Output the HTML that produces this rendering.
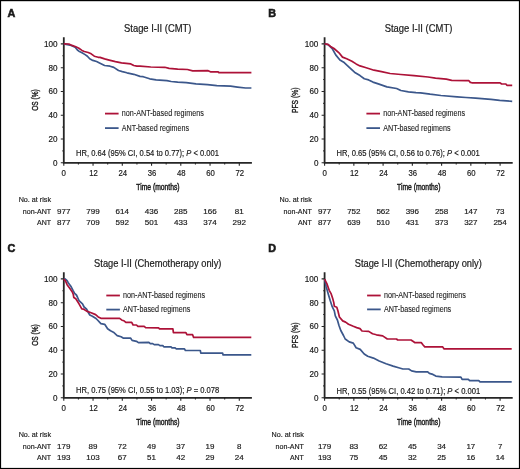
<!DOCTYPE html>
<html><head><meta charset="utf-8"><style>
html,body{margin:0;padding:0;background:#fff;}
body{width:520px;height:469px;overflow:hidden;position:relative;}
svg{position:absolute;left:0;top:0;display:block;will-change:transform;}
text{font-family:"Liberation Sans", sans-serif;fill:#1a1a1a;stroke:#1a1a1a;stroke-width:0.18px;}
</style></head><body>
<svg width="520" height="469" viewBox="0 0 520 469">
<rect x="0" y="0" width="520" height="1.2" fill="#000"/><rect x="0" y="0" width="1.1" height="469" fill="#000"/><rect x="518.9" y="0" width="1.1" height="469" fill="#000"/><rect x="0" y="467.9" width="520" height="1.1" fill="#000"/>
<g transform="translate(0,0)">
<text x="7.4" y="16.7" font-size="11.7" text-anchor="start" font-weight="bold" textLength="7.8" lengthAdjust="spacingAndGlyphs" style="stroke-width:0.6px">A</text>
<text x="124.0" y="32.1" font-size="10.1" text-anchor="start" font-weight="normal" textLength="67.5" lengthAdjust="spacingAndGlyphs" style="stroke-width:0.2px">Stage I-II (CMT)</text>
<path d="M63.8 37.2 V162.8 H251.9" fill="none" stroke="#262626" stroke-width="1.8"/>
<path d="M60.8 162.80 H63.8 M62.4 150.91 H63.8 M60.8 139.02 H63.8 M62.4 127.13 H63.8 M60.8 115.24 H63.8 M62.4 103.35 H63.8 M60.8 91.46 H63.8 M62.4 79.57 H63.8 M60.8 67.68 H63.8 M62.4 55.79 H63.8 M60.8 43.90 H63.8 M63.80 162.8 V165.8 M78.42 162.8 V164.4 M93.05 162.8 V165.8 M107.67 162.8 V164.4 M122.30 162.8 V165.8 M136.93 162.8 V164.4 M151.55 162.8 V165.8 M166.18 162.8 V164.4 M180.80 162.8 V165.8 M195.43 162.8 V164.4 M210.05 162.8 V165.8 M224.68 162.8 V164.4 M239.30 162.8 V165.8" stroke="#262626" stroke-width="1.1" fill="none"/>
<text x="57.6" y="165.7" font-size="8.2" text-anchor="end" font-weight="normal" textLength="4.5" lengthAdjust="spacingAndGlyphs">0</text>
<text x="57.6" y="141.92" font-size="8.2" text-anchor="end" font-weight="normal" textLength="9.0" lengthAdjust="spacingAndGlyphs">20</text>
<text x="57.6" y="118.14" font-size="8.2" text-anchor="end" font-weight="normal" textLength="9.0" lengthAdjust="spacingAndGlyphs">40</text>
<text x="57.6" y="94.36" font-size="8.2" text-anchor="end" font-weight="normal" textLength="9.0" lengthAdjust="spacingAndGlyphs">60</text>
<text x="57.6" y="70.58" font-size="8.2" text-anchor="end" font-weight="normal" textLength="9.0" lengthAdjust="spacingAndGlyphs">80</text>
<text x="57.6" y="46.8" font-size="8.2" text-anchor="end" font-weight="normal" textLength="13.6" lengthAdjust="spacingAndGlyphs">100</text>
<text x="63.8" y="176.3" font-size="8.2" text-anchor="middle" font-weight="normal" textLength="4.4" lengthAdjust="spacingAndGlyphs">0</text>
<text x="93.45" y="176.3" font-size="8.2" text-anchor="middle" font-weight="normal" textLength="8.6" lengthAdjust="spacingAndGlyphs">12</text>
<text x="122.7" y="176.3" font-size="8.2" text-anchor="middle" font-weight="normal" textLength="8.6" lengthAdjust="spacingAndGlyphs">24</text>
<text x="151.95" y="176.3" font-size="8.2" text-anchor="middle" font-weight="normal" textLength="8.6" lengthAdjust="spacingAndGlyphs">36</text>
<text x="181.2" y="176.3" font-size="8.2" text-anchor="middle" font-weight="normal" textLength="8.6" lengthAdjust="spacingAndGlyphs">48</text>
<text x="210.45" y="176.3" font-size="8.2" text-anchor="middle" font-weight="normal" textLength="8.6" lengthAdjust="spacingAndGlyphs">60</text>
<text x="239.7" y="176.3" font-size="8.2" text-anchor="middle" font-weight="normal" textLength="8.6" lengthAdjust="spacingAndGlyphs">72</text>
<text x="136.3" y="189.7" font-size="9.0" text-anchor="start" font-weight="normal" textLength="43.3" lengthAdjust="spacingAndGlyphs" style="stroke-width:0.45px">Time (months)</text>
<g transform="translate(37.7,100.0) rotate(-90)"><text x="0" y="0" font-size="9.7" text-anchor="middle" font-weight="normal" textLength="21.6" lengthAdjust="spacingAndGlyphs" style="stroke-width:0.4px">OS (%)</text></g>
<path d="M105.0 113.6 H118.6" stroke="#AD1238" stroke-width="1.8"/>
<path d="M105.0 128.1 H118.6" stroke="#3B578B" stroke-width="1.8"/>
<text x="121.8" y="115.69999999999999" font-size="8.2" text-anchor="start" font-weight="normal" textLength="82.0" lengthAdjust="spacingAndGlyphs" style="stroke-width:0.1px">non-ANT-based regimens</text>
<text x="121.8" y="130.7" font-size="8.2" text-anchor="start" font-weight="normal" textLength="67.3" lengthAdjust="spacingAndGlyphs" style="stroke-width:0.1px">ANT-based regimens</text>
<text x="76.1" y="156.2" font-size="8.4" text-anchor="start" font-weight="normal" textLength="142.8" lengthAdjust="spacingAndGlyphs">HR, 0.64 (95% CI, 0.54 to 0.77); <tspan font-style="italic">P</tspan> &lt; 0.001</text>
<text x="18.7" y="201.9" font-size="7.7" text-anchor="start" font-weight="normal" textLength="32.3" lengthAdjust="spacingAndGlyphs">No. at risk</text>
<text x="51.1" y="213.6" font-size="7.7" text-anchor="end" font-weight="normal" textLength="28.3" lengthAdjust="spacingAndGlyphs">non-ANT</text>
<text x="51.1" y="224.8" font-size="7.7" text-anchor="end" font-weight="normal" textLength="14.0" lengthAdjust="spacingAndGlyphs">ANT</text>
<text x="63.8" y="213.6" font-size="7.7" text-anchor="middle" font-weight="normal" textLength="13.4" lengthAdjust="spacingAndGlyphs">977</text>
<text x="93.05" y="213.6" font-size="7.7" text-anchor="middle" font-weight="normal" textLength="13.4" lengthAdjust="spacingAndGlyphs">799</text>
<text x="122.3" y="213.6" font-size="7.7" text-anchor="middle" font-weight="normal" textLength="13.4" lengthAdjust="spacingAndGlyphs">614</text>
<text x="151.55" y="213.6" font-size="7.7" text-anchor="middle" font-weight="normal" textLength="13.4" lengthAdjust="spacingAndGlyphs">436</text>
<text x="180.8" y="213.6" font-size="7.7" text-anchor="middle" font-weight="normal" textLength="13.4" lengthAdjust="spacingAndGlyphs">285</text>
<text x="210.05" y="213.6" font-size="7.7" text-anchor="middle" font-weight="normal" textLength="13.4" lengthAdjust="spacingAndGlyphs">166</text>
<text x="239.3" y="213.6" font-size="7.7" text-anchor="middle" font-weight="normal" textLength="8.9" lengthAdjust="spacingAndGlyphs">81</text>
<text x="63.8" y="224.8" font-size="7.7" text-anchor="middle" font-weight="normal" textLength="13.4" lengthAdjust="spacingAndGlyphs">877</text>
<text x="93.05" y="224.8" font-size="7.7" text-anchor="middle" font-weight="normal" textLength="13.4" lengthAdjust="spacingAndGlyphs">709</text>
<text x="122.3" y="224.8" font-size="7.7" text-anchor="middle" font-weight="normal" textLength="13.4" lengthAdjust="spacingAndGlyphs">592</text>
<text x="151.55" y="224.8" font-size="7.7" text-anchor="middle" font-weight="normal" textLength="13.4" lengthAdjust="spacingAndGlyphs">501</text>
<text x="180.8" y="224.8" font-size="7.7" text-anchor="middle" font-weight="normal" textLength="13.4" lengthAdjust="spacingAndGlyphs">433</text>
<text x="210.05" y="224.8" font-size="7.7" text-anchor="middle" font-weight="normal" textLength="13.4" lengthAdjust="spacingAndGlyphs">374</text>
<text x="239.3" y="224.8" font-size="7.7" text-anchor="middle" font-weight="normal" textLength="13.4" lengthAdjust="spacingAndGlyphs">292</text>
<path d="M63.80 43.90 L71.20 45.40 L75.10 47.30 L77.40 50.00 L78.90 51.20 L82.00 52.70 L85.10 54.60 L87.40 56.20 L89.70 58.80 L92.80 60.40 L96.60 61.50 L100.00 63.20 L104.60 65.50 L110.00 66.20 L113.80 67.40 L118.50 70.50 L122.30 71.60 L126.90 72.80 L133.80 74.30 L140.00 76.40 L143.20 76.70 L149.70 78.80 L156.10 79.90 L166.90 80.70 L171.20 81.50 L177.70 82.10 L186.30 82.60 L196.00 83.90 L207.50 84.70 L216.80 85.60 L230.60 86.20 L237.50 87.10 L245.60 88.00 L251.40 88.00" fill="none" stroke="#3B578B" stroke-width="1.7" stroke-linejoin="round" stroke-linecap="butt"/>
<path d="M63.80 43.90 L68.90 44.00 L72.00 45.40 L75.80 46.80 L78.90 48.30 L82.00 50.40 L84.30 51.50 L88.20 52.50 L91.20 53.80 L94.30 56.20 L98.20 57.30 L100.00 57.40 L104.60 58.90 L109.20 60.10 L115.40 61.60 L121.50 62.80 L130.80 63.90 L133.80 65.50 L136.90 66.20 L140.00 66.20 L150.80 67.00 L164.80 67.30 L169.10 68.40 L177.70 69.10 L187.40 69.50 L192.70 70.80 L208.10 70.70 L210.40 71.80 L217.90 71.80 L219.10 72.70 L251.40 72.70" fill="none" stroke="#AD1238" stroke-width="1.7" stroke-linejoin="round" stroke-linecap="butt"/>
</g>
<g transform="translate(260.8,0)">
<text x="7.4" y="16.7" font-size="11.7" text-anchor="start" font-weight="bold" textLength="7.8" lengthAdjust="spacingAndGlyphs" style="stroke-width:0.6px">B</text>
<text x="123.9" y="32.1" font-size="10.1" text-anchor="start" font-weight="normal" textLength="67.6" lengthAdjust="spacingAndGlyphs" style="stroke-width:0.2px">Stage I-II (CMT)</text>
<path d="M63.8 37.2 V162.8 H251.9" fill="none" stroke="#262626" stroke-width="1.8"/>
<path d="M60.8 162.80 H63.8 M62.4 150.91 H63.8 M60.8 139.02 H63.8 M62.4 127.13 H63.8 M60.8 115.24 H63.8 M62.4 103.35 H63.8 M60.8 91.46 H63.8 M62.4 79.57 H63.8 M60.8 67.68 H63.8 M62.4 55.79 H63.8 M60.8 43.90 H63.8 M63.80 162.8 V165.8 M78.42 162.8 V164.4 M93.05 162.8 V165.8 M107.67 162.8 V164.4 M122.30 162.8 V165.8 M136.93 162.8 V164.4 M151.55 162.8 V165.8 M166.18 162.8 V164.4 M180.80 162.8 V165.8 M195.43 162.8 V164.4 M210.05 162.8 V165.8 M224.68 162.8 V164.4 M239.30 162.8 V165.8" stroke="#262626" stroke-width="1.1" fill="none"/>
<text x="57.6" y="165.7" font-size="8.2" text-anchor="end" font-weight="normal" textLength="4.5" lengthAdjust="spacingAndGlyphs">0</text>
<text x="57.6" y="141.92" font-size="8.2" text-anchor="end" font-weight="normal" textLength="9.0" lengthAdjust="spacingAndGlyphs">20</text>
<text x="57.6" y="118.14" font-size="8.2" text-anchor="end" font-weight="normal" textLength="9.0" lengthAdjust="spacingAndGlyphs">40</text>
<text x="57.6" y="94.36" font-size="8.2" text-anchor="end" font-weight="normal" textLength="9.0" lengthAdjust="spacingAndGlyphs">60</text>
<text x="57.6" y="70.58" font-size="8.2" text-anchor="end" font-weight="normal" textLength="9.0" lengthAdjust="spacingAndGlyphs">80</text>
<text x="57.6" y="46.8" font-size="8.2" text-anchor="end" font-weight="normal" textLength="13.6" lengthAdjust="spacingAndGlyphs">100</text>
<text x="63.8" y="176.3" font-size="8.2" text-anchor="middle" font-weight="normal" textLength="4.4" lengthAdjust="spacingAndGlyphs">0</text>
<text x="93.45" y="176.3" font-size="8.2" text-anchor="middle" font-weight="normal" textLength="8.6" lengthAdjust="spacingAndGlyphs">12</text>
<text x="122.7" y="176.3" font-size="8.2" text-anchor="middle" font-weight="normal" textLength="8.6" lengthAdjust="spacingAndGlyphs">24</text>
<text x="151.95" y="176.3" font-size="8.2" text-anchor="middle" font-weight="normal" textLength="8.6" lengthAdjust="spacingAndGlyphs">36</text>
<text x="181.2" y="176.3" font-size="8.2" text-anchor="middle" font-weight="normal" textLength="8.6" lengthAdjust="spacingAndGlyphs">48</text>
<text x="210.45" y="176.3" font-size="8.2" text-anchor="middle" font-weight="normal" textLength="8.6" lengthAdjust="spacingAndGlyphs">60</text>
<text x="239.7" y="176.3" font-size="8.2" text-anchor="middle" font-weight="normal" textLength="8.6" lengthAdjust="spacingAndGlyphs">72</text>
<text x="136.3" y="189.7" font-size="9.0" text-anchor="start" font-weight="normal" textLength="43.3" lengthAdjust="spacingAndGlyphs" style="stroke-width:0.45px">Time (months)</text>
<g transform="translate(37.6,100.3) rotate(-90)"><text x="0" y="0" font-size="9.7" text-anchor="middle" font-weight="normal" textLength="25.6" lengthAdjust="spacingAndGlyphs" style="stroke-width:0.4px">PFS (%)</text></g>
<path d="M105.6 113.6 H119.19999999999999" stroke="#AD1238" stroke-width="1.8"/>
<path d="M105.6 128.1 H119.19999999999999" stroke="#3B578B" stroke-width="1.8"/>
<text x="122.39999999999999" y="115.69999999999999" font-size="8.2" text-anchor="start" font-weight="normal" textLength="82.0" lengthAdjust="spacingAndGlyphs" style="stroke-width:0.1px">non-ANT-based regimens</text>
<text x="122.39999999999999" y="130.7" font-size="8.2" text-anchor="start" font-weight="normal" textLength="67.3" lengthAdjust="spacingAndGlyphs" style="stroke-width:0.1px">ANT-based regimens</text>
<text x="75.7" y="156.4" font-size="8.4" text-anchor="start" font-weight="normal" textLength="143.3" lengthAdjust="spacingAndGlyphs">HR, 0.65 (95% CI, 0.56 to 0.76); <tspan font-style="italic">P</tspan> &lt; 0.001</text>
<text x="18.7" y="201.9" font-size="7.7" text-anchor="start" font-weight="normal" textLength="32.3" lengthAdjust="spacingAndGlyphs">No. at risk</text>
<text x="51.1" y="213.6" font-size="7.7" text-anchor="end" font-weight="normal" textLength="28.3" lengthAdjust="spacingAndGlyphs">non-ANT</text>
<text x="51.1" y="224.8" font-size="7.7" text-anchor="end" font-weight="normal" textLength="14.0" lengthAdjust="spacingAndGlyphs">ANT</text>
<text x="63.8" y="213.6" font-size="7.7" text-anchor="middle" font-weight="normal" textLength="13.4" lengthAdjust="spacingAndGlyphs">977</text>
<text x="93.05" y="213.6" font-size="7.7" text-anchor="middle" font-weight="normal" textLength="13.4" lengthAdjust="spacingAndGlyphs">752</text>
<text x="122.3" y="213.6" font-size="7.7" text-anchor="middle" font-weight="normal" textLength="13.4" lengthAdjust="spacingAndGlyphs">562</text>
<text x="151.55" y="213.6" font-size="7.7" text-anchor="middle" font-weight="normal" textLength="13.4" lengthAdjust="spacingAndGlyphs">396</text>
<text x="180.8" y="213.6" font-size="7.7" text-anchor="middle" font-weight="normal" textLength="13.4" lengthAdjust="spacingAndGlyphs">258</text>
<text x="210.05" y="213.6" font-size="7.7" text-anchor="middle" font-weight="normal" textLength="13.4" lengthAdjust="spacingAndGlyphs">147</text>
<text x="239.3" y="213.6" font-size="7.7" text-anchor="middle" font-weight="normal" textLength="8.9" lengthAdjust="spacingAndGlyphs">73</text>
<text x="63.8" y="224.8" font-size="7.7" text-anchor="middle" font-weight="normal" textLength="13.4" lengthAdjust="spacingAndGlyphs">877</text>
<text x="93.05" y="224.8" font-size="7.7" text-anchor="middle" font-weight="normal" textLength="13.4" lengthAdjust="spacingAndGlyphs">639</text>
<text x="122.3" y="224.8" font-size="7.7" text-anchor="middle" font-weight="normal" textLength="13.4" lengthAdjust="spacingAndGlyphs">510</text>
<text x="151.55" y="224.8" font-size="7.7" text-anchor="middle" font-weight="normal" textLength="13.4" lengthAdjust="spacingAndGlyphs">431</text>
<text x="180.8" y="224.8" font-size="7.7" text-anchor="middle" font-weight="normal" textLength="13.4" lengthAdjust="spacingAndGlyphs">373</text>
<text x="210.05" y="224.8" font-size="7.7" text-anchor="middle" font-weight="normal" textLength="13.4" lengthAdjust="spacingAndGlyphs">327</text>
<text x="239.3" y="224.8" font-size="7.7" text-anchor="middle" font-weight="normal" textLength="13.4" lengthAdjust="spacingAndGlyphs">254</text>
<path d="M63.80 43.90 L67.20 44.70 L71.40 48.50 L74.90 54.90 L79.10 60.00 L83.40 62.60 L88.50 67.30 L94.50 72.80 L99.20 75.60 L103.50 78.80 L107.80 79.90 L112.10 82.10 L117.50 83.90 L126.10 86.90 L135.80 88.50 L140.10 90.50 L147.60 91.80 L155.20 92.60 L159.70 92.80 L169.30 94.20 L180.10 95.50 L196.30 96.90 L205.20 97.50 L214.80 98.20 L230.20 99.40 L238.90 100.40 L251.40 101.30" fill="none" stroke="#3B578B" stroke-width="1.7" stroke-linejoin="round" stroke-linecap="butt"/>
<path d="M63.80 43.90 L67.20 44.30 L69.70 46.40 L73.20 48.50 L78.20 52.80 L81.70 57.10 L85.90 58.80 L91.10 61.30 L95.30 63.90 L99.20 65.90 L104.60 67.50 L113.20 70.20 L120.70 71.60 L129.30 73.50 L140.10 74.50 L153.20 75.60 L167.20 77.00 L174.70 78.10 L185.50 79.10 L190.90 80.40 L205.20 80.70 L208.10 80.70 L209.50 82.40 L211.00 82.80 L239.30 82.80 L240.80 84.00 L245.10 84.00 L246.10 85.30 L251.40 85.30" fill="none" stroke="#AD1238" stroke-width="1.7" stroke-linejoin="round" stroke-linecap="butt"/>
</g>
<g transform="translate(0,235.0)">
<text x="7.4" y="17.099999999999998" font-size="11.7" text-anchor="start" font-weight="bold" textLength="7.8" lengthAdjust="spacingAndGlyphs" style="stroke-width:0.6px">C</text>
<text x="94.1" y="32.1" font-size="10.1" text-anchor="start" font-weight="normal" textLength="127.3" lengthAdjust="spacingAndGlyphs" style="stroke-width:0.2px">Stage I-II (Chemotherapy only)</text>
<path d="M63.8 37.2 V162.8 H251.9" fill="none" stroke="#262626" stroke-width="1.8"/>
<path d="M60.8 162.80 H63.8 M62.4 150.91 H63.8 M60.8 139.02 H63.8 M62.4 127.13 H63.8 M60.8 115.24 H63.8 M62.4 103.35 H63.8 M60.8 91.46 H63.8 M62.4 79.57 H63.8 M60.8 67.68 H63.8 M62.4 55.79 H63.8 M60.8 43.90 H63.8 M63.80 162.8 V165.8 M78.42 162.8 V164.4 M93.05 162.8 V165.8 M107.67 162.8 V164.4 M122.30 162.8 V165.8 M136.93 162.8 V164.4 M151.55 162.8 V165.8 M166.18 162.8 V164.4 M180.80 162.8 V165.8 M195.43 162.8 V164.4 M210.05 162.8 V165.8 M224.68 162.8 V164.4 M239.30 162.8 V165.8" stroke="#262626" stroke-width="1.1" fill="none"/>
<text x="57.6" y="165.7" font-size="8.2" text-anchor="end" font-weight="normal" textLength="4.5" lengthAdjust="spacingAndGlyphs">0</text>
<text x="57.6" y="141.92" font-size="8.2" text-anchor="end" font-weight="normal" textLength="9.0" lengthAdjust="spacingAndGlyphs">20</text>
<text x="57.6" y="118.14" font-size="8.2" text-anchor="end" font-weight="normal" textLength="9.0" lengthAdjust="spacingAndGlyphs">40</text>
<text x="57.6" y="94.36" font-size="8.2" text-anchor="end" font-weight="normal" textLength="9.0" lengthAdjust="spacingAndGlyphs">60</text>
<text x="57.6" y="70.58" font-size="8.2" text-anchor="end" font-weight="normal" textLength="9.0" lengthAdjust="spacingAndGlyphs">80</text>
<text x="57.6" y="46.8" font-size="8.2" text-anchor="end" font-weight="normal" textLength="13.6" lengthAdjust="spacingAndGlyphs">100</text>
<text x="63.8" y="176.3" font-size="8.2" text-anchor="middle" font-weight="normal" textLength="4.4" lengthAdjust="spacingAndGlyphs">0</text>
<text x="93.45" y="176.3" font-size="8.2" text-anchor="middle" font-weight="normal" textLength="8.6" lengthAdjust="spacingAndGlyphs">12</text>
<text x="122.7" y="176.3" font-size="8.2" text-anchor="middle" font-weight="normal" textLength="8.6" lengthAdjust="spacingAndGlyphs">24</text>
<text x="151.95" y="176.3" font-size="8.2" text-anchor="middle" font-weight="normal" textLength="8.6" lengthAdjust="spacingAndGlyphs">36</text>
<text x="181.2" y="176.3" font-size="8.2" text-anchor="middle" font-weight="normal" textLength="8.6" lengthAdjust="spacingAndGlyphs">48</text>
<text x="210.45" y="176.3" font-size="8.2" text-anchor="middle" font-weight="normal" textLength="8.6" lengthAdjust="spacingAndGlyphs">60</text>
<text x="239.7" y="176.3" font-size="8.2" text-anchor="middle" font-weight="normal" textLength="8.6" lengthAdjust="spacingAndGlyphs">72</text>
<text x="136.3" y="189.7" font-size="9.0" text-anchor="start" font-weight="normal" textLength="43.3" lengthAdjust="spacingAndGlyphs" style="stroke-width:0.45px">Time (months)</text>
<g transform="translate(37.7,100.0) rotate(-90)"><text x="0" y="0" font-size="9.7" text-anchor="middle" font-weight="normal" textLength="21.6" lengthAdjust="spacingAndGlyphs" style="stroke-width:0.4px">OS (%)</text></g>
<path d="M106.3 60.5 H119.89999999999999" stroke="#AD1238" stroke-width="1.8"/>
<path d="M106.3 74.6 H119.89999999999999" stroke="#3B578B" stroke-width="1.8"/>
<text x="123.1" y="62.6" font-size="8.2" text-anchor="start" font-weight="normal" textLength="82.0" lengthAdjust="spacingAndGlyphs" style="stroke-width:0.1px">non-ANT-based regimens</text>
<text x="123.1" y="77.19999999999999" font-size="8.2" text-anchor="start" font-weight="normal" textLength="67.3" lengthAdjust="spacingAndGlyphs" style="stroke-width:0.1px">ANT-based regimens</text>
<text x="76.1" y="158.3" font-size="8.4" text-anchor="start" font-weight="normal" textLength="143.1" lengthAdjust="spacingAndGlyphs">HR, 0.75 (95% CI, 0.55 to 1.03); <tspan font-style="italic">P</tspan> = 0.078</text>
<text x="18.7" y="201.9" font-size="7.7" text-anchor="start" font-weight="normal" textLength="32.3" lengthAdjust="spacingAndGlyphs">No. at risk</text>
<text x="51.1" y="213.6" font-size="7.7" text-anchor="end" font-weight="normal" textLength="28.3" lengthAdjust="spacingAndGlyphs">non-ANT</text>
<text x="51.1" y="224.8" font-size="7.7" text-anchor="end" font-weight="normal" textLength="14.0" lengthAdjust="spacingAndGlyphs">ANT</text>
<text x="63.8" y="213.6" font-size="7.7" text-anchor="middle" font-weight="normal" textLength="13.4" lengthAdjust="spacingAndGlyphs">179</text>
<text x="93.05" y="213.6" font-size="7.7" text-anchor="middle" font-weight="normal" textLength="8.9" lengthAdjust="spacingAndGlyphs">89</text>
<text x="122.3" y="213.6" font-size="7.7" text-anchor="middle" font-weight="normal" textLength="8.9" lengthAdjust="spacingAndGlyphs">72</text>
<text x="151.55" y="213.6" font-size="7.7" text-anchor="middle" font-weight="normal" textLength="8.9" lengthAdjust="spacingAndGlyphs">49</text>
<text x="180.8" y="213.6" font-size="7.7" text-anchor="middle" font-weight="normal" textLength="8.9" lengthAdjust="spacingAndGlyphs">37</text>
<text x="210.05" y="213.6" font-size="7.7" text-anchor="middle" font-weight="normal" textLength="8.9" lengthAdjust="spacingAndGlyphs">19</text>
<text x="239.3" y="213.6" font-size="7.7" text-anchor="middle" font-weight="normal" textLength="4.4" lengthAdjust="spacingAndGlyphs">8</text>
<text x="63.8" y="224.8" font-size="7.7" text-anchor="middle" font-weight="normal" textLength="13.4" lengthAdjust="spacingAndGlyphs">193</text>
<text x="93.05" y="224.8" font-size="7.7" text-anchor="middle" font-weight="normal" textLength="13.4" lengthAdjust="spacingAndGlyphs">103</text>
<text x="122.3" y="224.8" font-size="7.7" text-anchor="middle" font-weight="normal" textLength="8.9" lengthAdjust="spacingAndGlyphs">67</text>
<text x="151.55" y="224.8" font-size="7.7" text-anchor="middle" font-weight="normal" textLength="8.9" lengthAdjust="spacingAndGlyphs">51</text>
<text x="180.8" y="224.8" font-size="7.7" text-anchor="middle" font-weight="normal" textLength="8.9" lengthAdjust="spacingAndGlyphs">42</text>
<text x="210.05" y="224.8" font-size="7.7" text-anchor="middle" font-weight="normal" textLength="8.9" lengthAdjust="spacingAndGlyphs">29</text>
<text x="239.3" y="224.8" font-size="7.7" text-anchor="middle" font-weight="normal" textLength="8.9" lengthAdjust="spacingAndGlyphs">24</text>
<path d="M63.80 44.10 L65.10 43.90 L67.10 45.60 L68.20 47.70 L69.70 49.70 L71.20 51.80 L73.00 55.40 L74.60 58.40 L76.40 60.00 L77.40 62.00 L79.00 65.60 L82.50 68.80 L84.10 72.00 L86.60 74.20 L88.60 78.00 L89.80 80.00 L92.40 81.20 L95.60 83.20 L97.50 85.00 L100.90 88.70 L104.70 89.30 L107.60 93.80 L110.50 95.80 L113.40 97.20 L117.20 100.60 L121.10 101.80 L123.50 103.20 L130.70 103.20 L132.10 105.40 L136.50 106.30 L138.40 107.60 L148.90 107.40 L150.30 108.60 L152.70 108.60 L154.20 109.60 L158.50 109.60 L159.90 110.60 L162.80 110.60 L163.80 111.80 L171.00 111.80 L172.00 112.80 L174.80 112.80 L176.30 113.90 L184.50 113.90 L185.40 115.50 L200.30 115.50 L200.80 118.10 L222.60 118.10 L223.10 119.90 L251.30 119.90" fill="none" stroke="#3B578B" stroke-width="1.7" stroke-linejoin="round" stroke-linecap="butt"/>
<path d="M63.80 44.10 L65.60 46.10 L67.10 49.70 L69.70 53.30 L72.30 56.90 L73.30 59.50 L73.80 62.50 L75.80 63.80 L79.00 68.80 L81.80 73.90 L83.80 74.20 L86.60 76.10 L91.10 77.70 L95.60 79.60 L98.20 81.90 L100.90 83.30 L119.60 83.30 L122.00 85.20 L124.00 85.80 L125.90 87.40 L131.70 87.40 L133.10 90.00 L136.50 90.00 L137.90 91.40 L144.20 91.40 L145.60 92.60 L158.50 92.80 L159.50 93.90 L172.90 93.90 L173.40 97.60 L185.90 97.60 L186.90 99.70 L192.60 99.70 L193.60 102.40 L251.30 102.40" fill="none" stroke="#AD1238" stroke-width="1.7" stroke-linejoin="round" stroke-linecap="butt"/>
</g>
<g transform="translate(260.8,235.0)">
<text x="7.4" y="17.099999999999998" font-size="11.7" text-anchor="start" font-weight="bold" textLength="7.8" lengthAdjust="spacingAndGlyphs" style="stroke-width:0.6px">D</text>
<text x="93.9" y="32.1" font-size="10.1" text-anchor="start" font-weight="normal" textLength="127.1" lengthAdjust="spacingAndGlyphs" style="stroke-width:0.2px">Stage I-II (Chemotherapy only)</text>
<path d="M63.8 37.2 V162.8 H251.9" fill="none" stroke="#262626" stroke-width="1.8"/>
<path d="M60.8 162.80 H63.8 M62.4 150.91 H63.8 M60.8 139.02 H63.8 M62.4 127.13 H63.8 M60.8 115.24 H63.8 M62.4 103.35 H63.8 M60.8 91.46 H63.8 M62.4 79.57 H63.8 M60.8 67.68 H63.8 M62.4 55.79 H63.8 M60.8 43.90 H63.8 M63.80 162.8 V165.8 M78.42 162.8 V164.4 M93.05 162.8 V165.8 M107.67 162.8 V164.4 M122.30 162.8 V165.8 M136.93 162.8 V164.4 M151.55 162.8 V165.8 M166.18 162.8 V164.4 M180.80 162.8 V165.8 M195.43 162.8 V164.4 M210.05 162.8 V165.8 M224.68 162.8 V164.4 M239.30 162.8 V165.8" stroke="#262626" stroke-width="1.1" fill="none"/>
<text x="57.6" y="165.7" font-size="8.2" text-anchor="end" font-weight="normal" textLength="4.5" lengthAdjust="spacingAndGlyphs">0</text>
<text x="57.6" y="141.92" font-size="8.2" text-anchor="end" font-weight="normal" textLength="9.0" lengthAdjust="spacingAndGlyphs">20</text>
<text x="57.6" y="118.14" font-size="8.2" text-anchor="end" font-weight="normal" textLength="9.0" lengthAdjust="spacingAndGlyphs">40</text>
<text x="57.6" y="94.36" font-size="8.2" text-anchor="end" font-weight="normal" textLength="9.0" lengthAdjust="spacingAndGlyphs">60</text>
<text x="57.6" y="70.58" font-size="8.2" text-anchor="end" font-weight="normal" textLength="9.0" lengthAdjust="spacingAndGlyphs">80</text>
<text x="57.6" y="46.8" font-size="8.2" text-anchor="end" font-weight="normal" textLength="13.6" lengthAdjust="spacingAndGlyphs">100</text>
<text x="63.8" y="176.3" font-size="8.2" text-anchor="middle" font-weight="normal" textLength="4.4" lengthAdjust="spacingAndGlyphs">0</text>
<text x="93.45" y="176.3" font-size="8.2" text-anchor="middle" font-weight="normal" textLength="8.6" lengthAdjust="spacingAndGlyphs">12</text>
<text x="122.7" y="176.3" font-size="8.2" text-anchor="middle" font-weight="normal" textLength="8.6" lengthAdjust="spacingAndGlyphs">24</text>
<text x="151.95" y="176.3" font-size="8.2" text-anchor="middle" font-weight="normal" textLength="8.6" lengthAdjust="spacingAndGlyphs">36</text>
<text x="181.2" y="176.3" font-size="8.2" text-anchor="middle" font-weight="normal" textLength="8.6" lengthAdjust="spacingAndGlyphs">48</text>
<text x="210.45" y="176.3" font-size="8.2" text-anchor="middle" font-weight="normal" textLength="8.6" lengthAdjust="spacingAndGlyphs">60</text>
<text x="239.7" y="176.3" font-size="8.2" text-anchor="middle" font-weight="normal" textLength="8.6" lengthAdjust="spacingAndGlyphs">72</text>
<text x="136.3" y="189.7" font-size="9.0" text-anchor="start" font-weight="normal" textLength="43.3" lengthAdjust="spacingAndGlyphs" style="stroke-width:0.45px">Time (months)</text>
<g transform="translate(37.6,100.3) rotate(-90)"><text x="0" y="0" font-size="9.7" text-anchor="middle" font-weight="normal" textLength="25.6" lengthAdjust="spacingAndGlyphs" style="stroke-width:0.4px">PFS (%)</text></g>
<path d="M106.3 60.5 H119.89999999999999" stroke="#AD1238" stroke-width="1.8"/>
<path d="M106.3 74.4 H119.89999999999999" stroke="#3B578B" stroke-width="1.8"/>
<text x="123.1" y="62.6" font-size="8.2" text-anchor="start" font-weight="normal" textLength="82.0" lengthAdjust="spacingAndGlyphs" style="stroke-width:0.1px">non-ANT-based regimens</text>
<text x="123.1" y="77.0" font-size="8.2" text-anchor="start" font-weight="normal" textLength="67.3" lengthAdjust="spacingAndGlyphs" style="stroke-width:0.1px">ANT-based regimens</text>
<text x="75.7" y="158.6" font-size="8.4" text-anchor="start" font-weight="normal" textLength="143.7" lengthAdjust="spacingAndGlyphs">HR, 0.55 (95% CI, 0.42 to 0.71); <tspan font-style="italic">P</tspan> &lt; 0.001</text>
<text x="10.7" y="201.9" font-size="7.7" text-anchor="start" font-weight="normal" textLength="32.3" lengthAdjust="spacingAndGlyphs">No. at risk</text>
<text x="43.1" y="213.6" font-size="7.7" text-anchor="end" font-weight="normal" textLength="28.3" lengthAdjust="spacingAndGlyphs">non-ANT</text>
<text x="43.1" y="224.8" font-size="7.7" text-anchor="end" font-weight="normal" textLength="14.0" lengthAdjust="spacingAndGlyphs">ANT</text>
<text x="63.8" y="213.6" font-size="7.7" text-anchor="middle" font-weight="normal" textLength="13.4" lengthAdjust="spacingAndGlyphs">179</text>
<text x="93.05" y="213.6" font-size="7.7" text-anchor="middle" font-weight="normal" textLength="8.9" lengthAdjust="spacingAndGlyphs">83</text>
<text x="122.3" y="213.6" font-size="7.7" text-anchor="middle" font-weight="normal" textLength="8.9" lengthAdjust="spacingAndGlyphs">62</text>
<text x="151.55" y="213.6" font-size="7.7" text-anchor="middle" font-weight="normal" textLength="8.9" lengthAdjust="spacingAndGlyphs">45</text>
<text x="180.8" y="213.6" font-size="7.7" text-anchor="middle" font-weight="normal" textLength="8.9" lengthAdjust="spacingAndGlyphs">34</text>
<text x="210.05" y="213.6" font-size="7.7" text-anchor="middle" font-weight="normal" textLength="8.9" lengthAdjust="spacingAndGlyphs">17</text>
<text x="239.3" y="213.6" font-size="7.7" text-anchor="middle" font-weight="normal" textLength="4.4" lengthAdjust="spacingAndGlyphs">7</text>
<text x="63.8" y="224.8" font-size="7.7" text-anchor="middle" font-weight="normal" textLength="13.4" lengthAdjust="spacingAndGlyphs">193</text>
<text x="93.05" y="224.8" font-size="7.7" text-anchor="middle" font-weight="normal" textLength="8.9" lengthAdjust="spacingAndGlyphs">75</text>
<text x="122.3" y="224.8" font-size="7.7" text-anchor="middle" font-weight="normal" textLength="8.9" lengthAdjust="spacingAndGlyphs">45</text>
<text x="151.55" y="224.8" font-size="7.7" text-anchor="middle" font-weight="normal" textLength="8.9" lengthAdjust="spacingAndGlyphs">32</text>
<text x="180.8" y="224.8" font-size="7.7" text-anchor="middle" font-weight="normal" textLength="8.9" lengthAdjust="spacingAndGlyphs">25</text>
<text x="210.05" y="224.8" font-size="7.7" text-anchor="middle" font-weight="normal" textLength="8.9" lengthAdjust="spacingAndGlyphs">16</text>
<text x="239.3" y="224.8" font-size="7.7" text-anchor="middle" font-weight="normal" textLength="8.9" lengthAdjust="spacingAndGlyphs">14</text>
<path d="M63.80 44.10 L65.30 51.20 L67.30 58.40 L69.40 65.60 L71.40 71.70 L73.50 75.80 L74.50 80.90 L76.60 85.00 L78.10 90.20 L80.00 95.50 L82.70 100.50 L84.40 104.00 L88.40 106.90 L92.50 108.10 L95.30 112.70 L99.40 114.40 L103.40 119.00 L106.90 121.30 L112.60 123.10 L118.40 126.00 L125.30 128.80 L132.30 131.10 L138.70 133.00 L142.10 134.00 L147.90 134.00 L150.80 135.90 L155.40 136.80 L166.90 136.80 L168.60 138.40 L172.10 139.40 L175.00 141.10 L181.30 141.90 L200.10 142.10 L201.30 144.40 L207.60 144.40 L208.80 145.60 L218.00 145.60 L219.20 146.90 L250.90 146.90" fill="none" stroke="#3B578B" stroke-width="1.7" stroke-linejoin="round" stroke-linecap="butt"/>
<path d="M63.80 44.10 L66.30 49.20 L68.40 55.30 L70.40 58.90 L71.90 63.50 L73.00 67.60 L73.50 71.20 L76.00 72.20 L77.10 75.80 L78.60 82.00 L81.90 85.90 L84.80 87.10 L87.70 89.20 L92.50 91.30 L95.90 92.60 L99.20 93.60 L101.20 96.00 L107.90 96.40 L111.70 98.80 L115.60 99.80 L121.90 100.90 L126.50 104.00 L135.70 104.00 L136.90 105.00 L150.20 105.00 L152.50 106.50 L154.20 107.70 L160.60 107.70 L162.30 110.00 L164.00 111.90 L181.90 111.90 L183.10 113.80 L250.90 113.80" fill="none" stroke="#AD1238" stroke-width="1.7" stroke-linejoin="round" stroke-linecap="butt"/>
</g>
</svg>
</body></html>
